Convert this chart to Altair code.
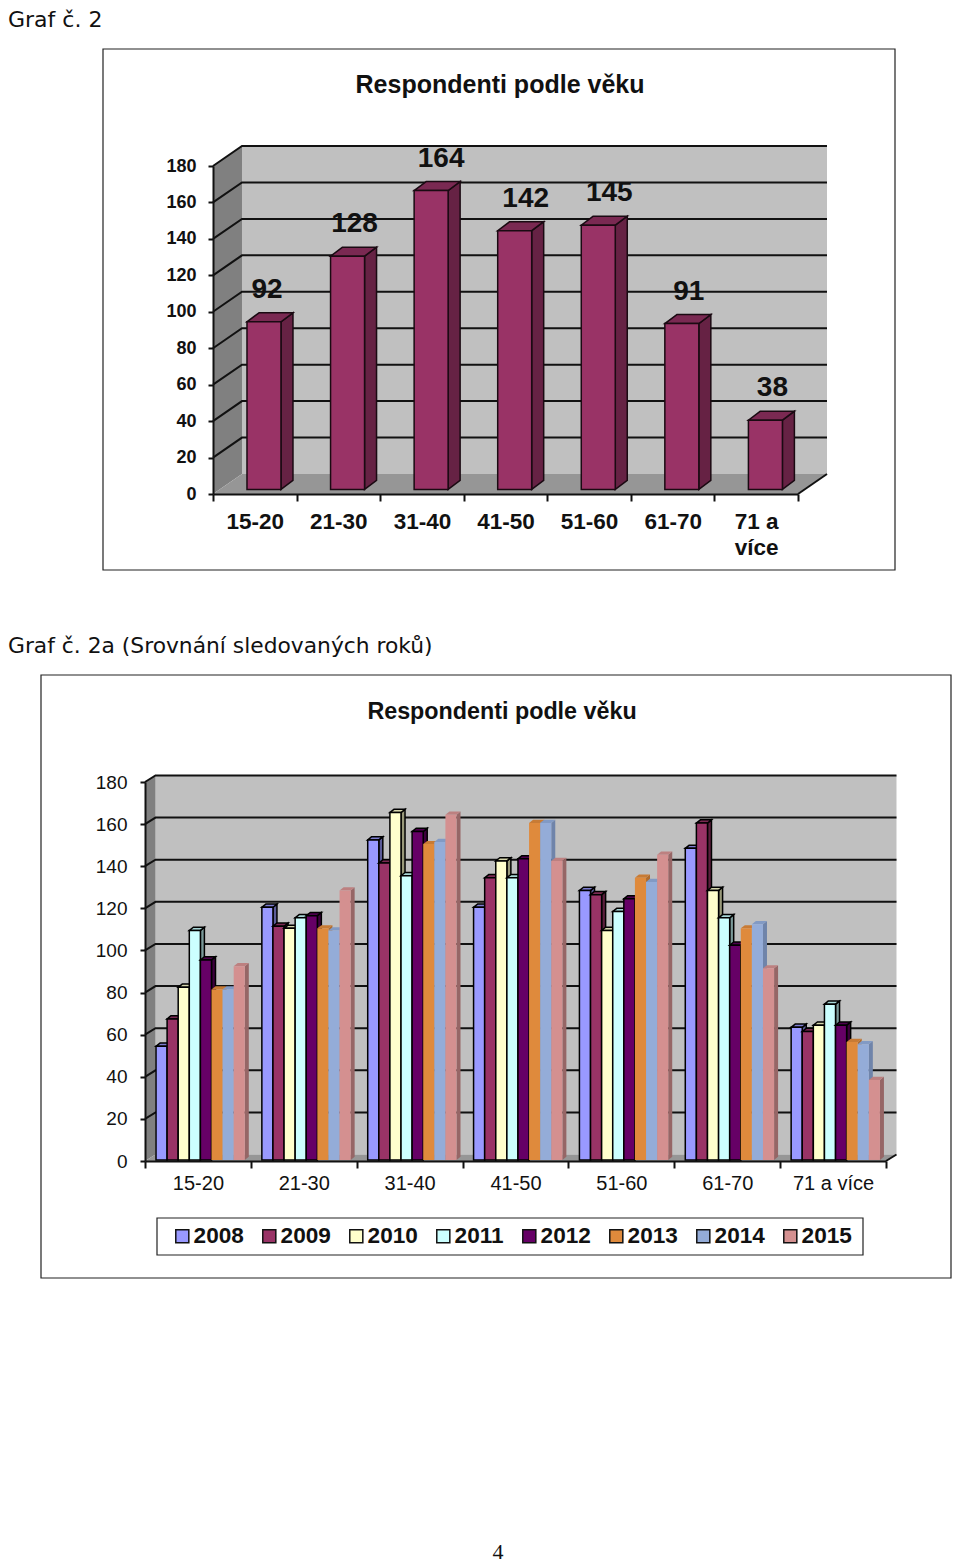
import json
import altair as alt
import pandas as pd

# ---- data ----
age_a = ["15-20", "21-30", "31-40", "41-50", "51-60", "61-70", ["71 a", "více"]]
age_b = ["15-20", "21-30", "31-40", "41-50", "51-60", "61-70", "71 a více"]
resp = [92, 128, 164, 142, 145, 91, 38]
years = ["2008", "2009", "2010", "2011", "2012", "2013", "2014", "2015"]
v2008 = [54, 120, 152, 120, 128, 148, 63]
v2009 = [67, 111, 141, 134, 126, 160, 61]
v2010 = [82, 110, 165, 142, 109, 128, 64]
v2011 = [109, 115, 135, 134, 118, 115, 74]
v2012 = [95, 116, 156, 143, 124, 102, 64]
v2013 = [81, 110, 150, 160, 134, 110, 56]
v2014 = [81, 109, 151, 160, 132, 112, 55]
v2015 = [92, 128, 164, 142, 145, 91, 38]
series_b = [v2008, v2009, v2010, v2011, v2012, v2013, v2014, v2015]
y_ticks = list(range(0, 181, 20))

# ---- style ----
FONT = "Liberation Sans"
fills = ["#9999FF", "#993366", "#FFFFCC", "#CCFFFF", "#660066", "#DF8A3C", "#94ACD8", "#D49090"]
tops = ["#7D7DD0", "#7A2952", "#D6D6AC", "#A8D6D6", "#4D004D", "#C87B35", "#829AC4", "#BD8080"]
sides = ["#5C5C99", "#5C1F3D", "#99997A", "#7A9999", "#3D003D", "#B06C2E", "#6F84AA", "#966666"]
edges = ["#000000"] * 5 + [None] * 3
W, H = 944, 1557


def to_x(px0, px1):
    return alt.Scale(domain=[0, 7], range=[px0 - 8, px1 - 8], nice=False, zero=False)


def to_y(px0, px180):
    return alt.Scale(domain=[0, 180], range=[px0 - 8, px180 - 8], nice=False, zero=False)


def bar_layers(vals, idx, left, width, ddx, ddy, base, xs, ys, fill, top, side, edge, sw, color_enc=None):
    front, sd, tp = [], [], []
    for i, v in enumerate(vals):
        l, r = i + left, i + left + width
        front.append(dict(cat=i, year=years[idx] if color_enc else "", l=l, r=r, b=base, t=v + base))
        sd += [dict(k=i, x=r, y0=base, y1=v + base), dict(k=i, x=r + ddx, y0=base + ddy, y1=v + base + ddy)]
        tp += [dict(k=i, y=v + base, x0=l, x1=r), dict(k=i, y=v + base + ddy, x0=l + ddx, x1=r + ddx)]
    extra = dict(stroke=edge, strokeWidth=sw) if edge else {}
    X = lambda f: alt.X(f, scale=xs, axis=None, title=None)
    Y = lambda f: alt.Y(f, scale=ys, axis=None, title=None, stack=None)
    side_l = alt.Chart(pd.DataFrame(sd)).mark_area(color=side, **extra).encode(
        x=X("x:Q"), y=Y("y0:Q"), y2="y1:Q", detail="k:N")
    top_l = alt.Chart(pd.DataFrame(tp)).mark_area(color=top, orient="horizontal", **extra).encode(
        y=Y("y:Q"), x=alt.X("x0:Q", scale=xs, axis=None, title=None, stack=None), x2="x1:Q", detail="k:N")
    enc = dict(x=X("l:Q"), x2="r:Q", y=Y("b:Q"), y2="t:Q")
    if color_enc:
        enc["color"] = color_enc
        front_l = alt.Chart(pd.DataFrame(front)).mark_rect(**extra).encode(**enc)
    else:
        front_l = alt.Chart(pd.DataFrame(front)).mark_rect(color=fill, **extra).encode(**enc)
    return [side_l, top_l, front_l]


def walls(xs, ys, ddx, ddy, lw, tick_size, y_font, y_bold, y_pad, x_labels, x_font, x_bold, x_pad,
          line_h, x0px, y0px):
    X = lambda f, **k: alt.X(f, scale=xs, title=None, **k)
    Y = lambda f, **k: alt.Y(f, scale=ys, title=None, **k)
    back = alt.Chart(pd.DataFrame([dict(a=ddx, b=7 + ddx, c=ddy, d=180 + ddy)])).mark_rect(color="#C0C0C0").encode(
        x=X("a:Q", axis=None), x2="b:Q", y=Y("c:Q", axis=None), y2="d:Q")
    left = alt.Chart(pd.DataFrame([dict(x=0, y0=0, y1=180), dict(x=ddx, y0=ddy, y1=180 + ddy)])).mark_area(
        color="#808080").encode(x=X("x:Q", axis=None), y=Y("y0:Q", axis=None, stack=None), y2="y1:Q")
    floor = alt.Chart(pd.DataFrame([dict(y=0, x0=0, x1=7), dict(y=ddy, x0=ddx, x1=7 + ddx)])).mark_area(
        color="#969696", orient="horizontal").encode(
        y=Y("y:Q", axis=None), x=X("x0:Q", axis=None, stack=None), x2="x1:Q")
    rows = []
    for v in y_ticks[1:]:
        rows += [dict(v=v, o=0, x=0, y=v), dict(v=v, o=1, x=ddx, y=v + ddy), dict(v=v, o=2, x=7 + ddx, y=v + ddy)]
    rows += [dict(v=0, o=0, x=7, y=0), dict(v=0, o=1, x=7 + ddx, y=ddy)]
    grid = alt.Chart(pd.DataFrame(rows)).mark_line(color="#111111", strokeWidth=lw).encode(
        x=X("x:Q", axis=None), y=Y("y:Q", axis=None), detail="v:N", order="o:Q")
    ax = dict(domainColor="#111111", domainWidth=lw, tickColor="#111111", tickWidth=lw, zindex=1)
    axis_y = alt.Axis(values=y_ticks, orient="left", offset=-(x0px - 8), tickSize=tick_size, labelPadding=y_pad,
                      labelFont=FONT, labelFontSize=y_font, labelFontWeight="bold" if y_bold else "normal",
                      labelColor="#111111", grid=False, title=None, **ax)
    expr = "datum.value % 1 == 0 ? '' : " + json.dumps(x_labels, ensure_ascii=False) + "[floor(datum.value)]"
    axis_x = alt.Axis(values=[i * 0.5 for i in range(15)], orient="bottom", offset=-(H - (y0px - 8)),
                      tickSize=tick_size + 2, tickOpacity=alt.expr("datum.value % 1 == 0 ? 1 : 0"),
                      labelExpr=expr, labelPadding=x_pad, labelFont=FONT, labelFontSize=x_font,
                      labelFontWeight="bold" if x_bold else "normal", labelColor="#111111", labelLineHeight=line_h,
                      labelOverlap=False, labelBound=False, labelFlush=False, labelAngle=0, labelBaseline="top",
                      grid=False, title=None, **ax)
    ax_l = alt.Chart(pd.DataFrame(dict(x=[0], y=[0]))).mark_point(opacity=0).encode(
        x=X("x:Q", axis=axis_x), y=Y("y:Q", axis=axis_y))
    return [back, left, floor, grid, ax_l]


# ---- chart A ----
xa, ya = to_x(213, 798), to_y(494, 166)
DDXA, DDYA = 29 / 83.6, 20 / 1.822
layers_a = walls(xa, ya, DDXA, DDYA, 2, 5, 18, True, 12, age_a, 22.5, True, 9, 26, 213, 494)
layers_a += bar_layers(resp, 7, 34 / 83.6, 34 / 83.6, 12 / 83.6, 9 / 1.822, 2.5, xa, ya,
                       "#993366", "#7A2952", "#662244", "#1A0A12", 1.5)
nudge = [3, 7, 10, 11, 11, 7, 7]
lab_df = pd.DataFrame(dict(x=[i + 51 / 83.6 + nudge[i] / 83.6 for i in range(7)], y=[v + 2.5 for v in resp], t=[str(v) for v in resp]))
layers_a.append(alt.Chart(lab_df).mark_text(font=FONT, fontSize=28, fontWeight="bold", dy=-32, color="#111111",
                                            baseline="middle").encode(
    x=alt.X("x:Q", scale=xa, axis=None), y=alt.Y("y:Q", scale=ya, axis=None), text="t:N"))
panel_a = alt.layer(*layers_a).resolve_axis(x="independent", y="independent")

# ---- chart B ----
xb, yb = to_x(145, 886), to_y(1161, 782)
DDXB, DDYB = 10.5 / 105.86, 6.5 / 2.106
layers_b = walls(xb, yb, DDXB, DDYB, 2, 5, 19, False, 13, age_b, 20, False, 5, 22, 145, 1161)
color_enc = alt.Color("year:N", scale=alt.Scale(domain=years, range=fills),
                      legend=alt.Legend(orient="none", legendX=163, legendY=1217, direction="horizontal", columns=8,
                                        symbolType="square", symbolSize=170, symbolStrokeColor="#111111",
                                        symbolStrokeWidth=1.5, labelFont=FONT, labelFontSize=22.6, labelColor="#111111",
                                        labelFontWeight="bold", labelOffset=0, columnPadding=14, padding=0, title=None,
                                        symbolOpacity=1))
w = 11.1 / 105.86
for s, vals in enumerate(series_b):
    layers_b += bar_layers(vals, s, 11 / 105.86 + s * w, w, 4 / 105.86, 3.2 / 2.106, 0.5, xb, yb,
                           fills[s], tops[s], sides[s], edges[s], 1.5, color_enc)
panel_b = alt.layer(*layers_b).resolve_axis(x="independent", y="independent")


# ---- page furniture ----
def frame(x0, y0, x1, y1, stroke="#222222", width=1.2):
    return alt.Chart(pd.DataFrame(dict(a=[0]))).mark_rect(fill="white", stroke=stroke, strokeWidth=width).encode(
        x=alt.value(x0 - 8), x2=alt.value(x1 - 8), y=alt.value(y0 - 8), y2=alt.value(y1 - 8))


def label(text, x, y, size, font=FONT, weight="normal", align="left", color="#111111"):
    return alt.Chart(pd.DataFrame(dict(a=[0]))).mark_text(
        text=text, font=font, fontSize=size, fontWeight=weight, align=align, baseline="middle", color=color
    ).encode(x=alt.value(x - 8), y=alt.value(y - 8))


furniture = [
    frame(103, 49, 895, 570),
    frame(41, 675, 951, 1278),
    frame(157, 1218, 863, 1255),
    label("Graf č. 2", 8, 20, 22, font="DejaVu Sans"),
    label("Graf č. 2a (Srovnání sledovaných roků)", 8, 646, 21.8, font="DejaVu Sans"),
    label("Respondenti podle věku", 500, 85, 25, weight="bold", align="center"),
    label("Respondenti podle věku", 502, 712, 23.3, weight="bold", align="center"),
    label("4", 498, 1552, 22, font="Liberation Serif", align="center"),
]

chart = alt.layer(*furniture, panel_a, panel_b).resolve_scale(
    x="independent", y="independent", color="independent").properties(
    width=W, height=H, padding=0, autosize=alt.AutoSizeParams(type="none"), background="white"
).configure_view(stroke=None)

chart.save("out.html", embed_options={"renderer": "svg", "actions": False})
